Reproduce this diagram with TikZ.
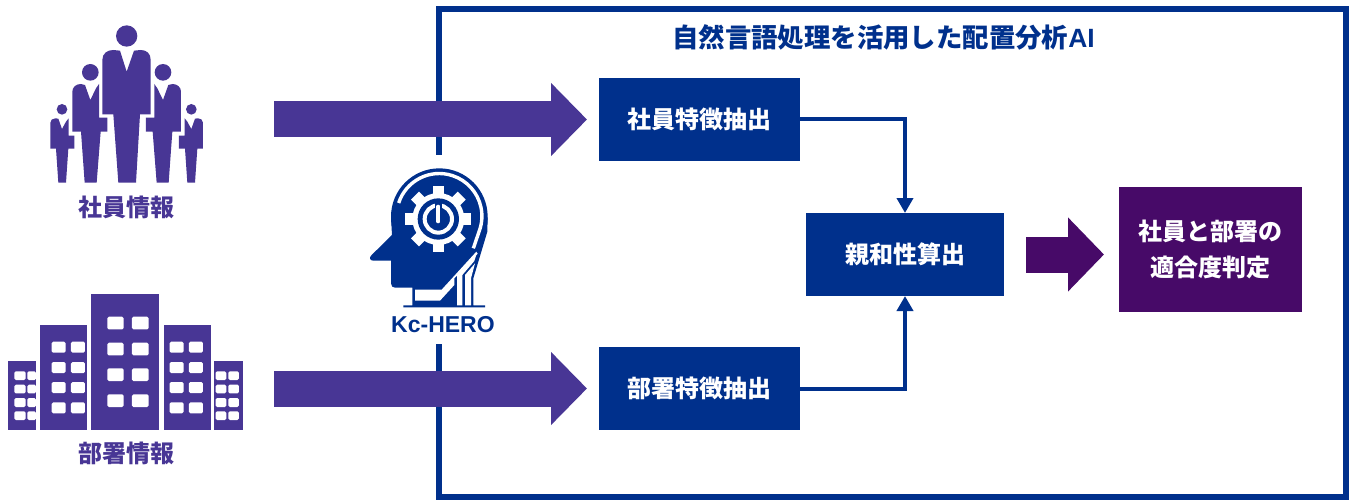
\documentclass[tikz,border=0pt]{standalone}
\usepackage{fontspec}
\setmainfont{Noto Sans CJK JP}
\newfontfamily\latinbold{Liberation Sans}[UprightFont={* Bold},BoldFont={* Bold}]
\usetikzlibrary{arrows.meta}
\definecolor{navy}{HTML}{00308C}
\definecolor{violet}{HTML}{483695}
\definecolor{plum}{HTML}{470A68}
\tikzset{
  x=1pt,y=-1pt,
  box/.style={fill=navy,text=white,minimum width=201pt,minimum height=83pt,inner sep=0pt,outer sep=0pt,align=center,font=\fontsize{24}{36}\selectfont\bfseries},
  midbox/.style={box,minimum width=198pt},
  resultbox/.style={box,fill=plum,minimum width=183pt,minimum height=125pt},
  biglabel/.style={inner sep=0pt,text=violet,font=\fontsize{24}{28}\selectfont\bfseries},
  bigarrow/.style={violet,line width=36pt,-{Triangle[length=36pt,width=71pt]}},
  conn/.style={navy,line width=4pt,-{Triangle[length=15pt,width=16pt]}},
}
\newcommand{\windowrows}[3]{% x0, x1, list of rows
  \foreach \ya/\yb in {#3}{\fill[white,rounded corners=1.5pt] (#1,\ya) rectangle (#2,\yb);}}
\begin{document}
\begin{tikzpicture}
\useasboundingbox (0,0) rectangle (1355,500);
% frame
\draw[navy,line width=6pt,miter limit=10] (439,155) -- (439,9) -- (1346,9) -- (1346,497) -- (439,497) -- (439,344);
\node[inner sep=0pt,text=navy,font=\fontsize{26.4}{30}\selectfont\bfseries] (title) at (883.5,37) {自然言語処理を活用した配置分析{\latinbold AI}};
% boxes
\node[box] (a) at (699.5,119.5) {社員特徴抽出};
\node[box] (b) at (699.5,388.5) {部署特徴抽出};
\node[midbox] (c) at (905,254.5) {親和性算出};
\node[resultbox] (d) at (1210.5,249.5) {社員と部署の\\適合度判定};
\coordinate (estart) at (274,119.5);
\coordinate (dstart) at (274,388.5);
\draw[bigarrow,shorten >=12pt] (estart) -- (a.west);
\draw[bigarrow,shorten >=12pt] (dstart) -- (b.west);
\draw[conn] (a.east) -| (c.north);
\draw[conn] (b.east) -| (c.south);
\draw[plum,line width=36pt,shorten <=22pt,shorten >=15pt,-{Triangle[length=36pt,width=72pt]}] (c.east) -- (c.east -| d.west);
% people
\begin{scope}[shift={(30,10)},xscale=1/3,yscale=1/3]
  \fill[violet] (290,78) circle[radius=32];
  \fill[violet] (217,150) .. controls (217,130) and (232,120) .. (250,120) -- (270,122) -- (290,185) -- (312,122) -- (332,120) .. controls (350,120) and (362,130) .. (362,150) -- (362,313) -- (330,313) -- (318,518) -- (265,518) -- (250,313) -- (217,313) -- cycle;
  \foreach \m in {0,1}{
  \begin{scope}[shift={(\m*580,0)},xscale=1-2*\m]
    \fill[violet] (181,187) circle[radius=25];
    \fill[violet] (127,245) .. controls (127,232) and (138,222) .. (152,222) -- (165,225) -- (181,270) -- (198,235) -- (207,222) -- (207,323) -- (232,323) -- (232,365) -- (212,365) -- (200,518) -- (164,518) -- (153,365) -- (127,365) -- cycle;
    \fill[violet] (96,298) circle[radius=16];
    \fill[violet] (61,338) .. controls (61,330) and (68,325) .. (76,325) -- (85,326) -- (96,357) -- (108,335) -- (116,325) -- (116,377) -- (133,377) -- (133,416) -- (115,416) -- (108,518) -- (85,518) -- (78,416) -- (61,416) -- cycle;
  \end{scope}}
\end{scope}
\node[biglabel] (elabel) at (126.5,207) {社員情報};
% buildings
\begin{scope}[shift={(0,280)},xscale=1/3,yscale=1/3]
  \fill[violet] (273,42) rectangle (478,450);
  \fill[violet] (120,135) rectangle (261,450);
  \fill[violet] (491,135) rectangle (632,450);
  \fill[violet] (24,244) rectangle (108,450);
  \fill[violet] (643,244) rectangle (728,450);
  \windowrows{322}{371}{110/148,188/226,265/303,343/381}
  \windowrows{396}{446}{110/148,188/226,265/303,343/381}
  \windowrows{155}{197}{185/218,246/279,306/339,367/400}
  \windowrows{213}{255}{185/218,246/279,306/339,367/400}
  \windowrows{509}{551}{185/218,246/279,306/339,367/400}
  \windowrows{567}{609}{185/218,246/279,306/339,367/400}
  \windowrows{43}{77}{274/300,314/340,354/381,394/420}
  \windowrows{82}{108}{274/300,314/340,354/381,394/420}
  \windowrows{647}{679}{274/300,314/340,354/381,394/420}
  \windowrows{685}{717}{274/300,314/340,354/381,394/420}
\end{scope}
\node[biglabel] (dlabel) at (126.5,453.5) {部署情報};
% head
\begin{scope}[shift={(360,160)},xscale=1/3,yscale=1/3]
  \fill[navy] (238,170) circle[radius=145];
  \fill[navy] (93,172) -- (96,225) -- (35,285) .. controls (26,293) and (30,302) .. (40,302) -- (93,302) -- (93,370) .. controls (93,378) and (98,383) .. (105,383) -- (157,383) -- (157,436) -- (130,436) -- (130,442) -- (375,442) -- (375,436) -- (340,436) -- (340,355) -- (382,215) -- (383,172) -- cycle;
  % white stripes
  \draw[white,line width=3.4pt] (116,129) arc[start angle=198,end angle=380,radius=128] -- (340,265);
  \fill[white] (165,389) -- (245,389) -- (349,275) -- (353,281) -- (283,355) -- (283,375) -- (240,422) -- (165,422) -- cycle;
  \fill[white] (291,436) -- (307,436) -- (307,345) -- (343,303) -- (350,281) -- (291,345) -- cycle;
  \fill[white] (315,436) -- (333,436) -- (333,355) -- (345,310) -- (315,345) -- cycle;
  % gear
  \fill[white] (235,177) circle[radius=78];
  \foreach \t in {0,45,...,315}{
    \fill[white,shift={(235,177)},rotate=\t] (-17,-99) rectangle (17,-70);}
  \fill[navy] (235,177) circle[radius=62];
  \draw[white,line width=4pt] (235,177) circle[radius=41];
  \draw[navy,line width=7.5pt] (235,128) -- (235,190);
  \draw[white,line width=4pt,line cap=round] (235,140) -- (235,184);
\end{scope}
\node[inner sep=0pt,text=navy,font=\latinbold\fontsize{23}{26}\selectfont\bfseries] (hero) at (443,325) {Kc-HERO};
\end{tikzpicture}
\end{document}
